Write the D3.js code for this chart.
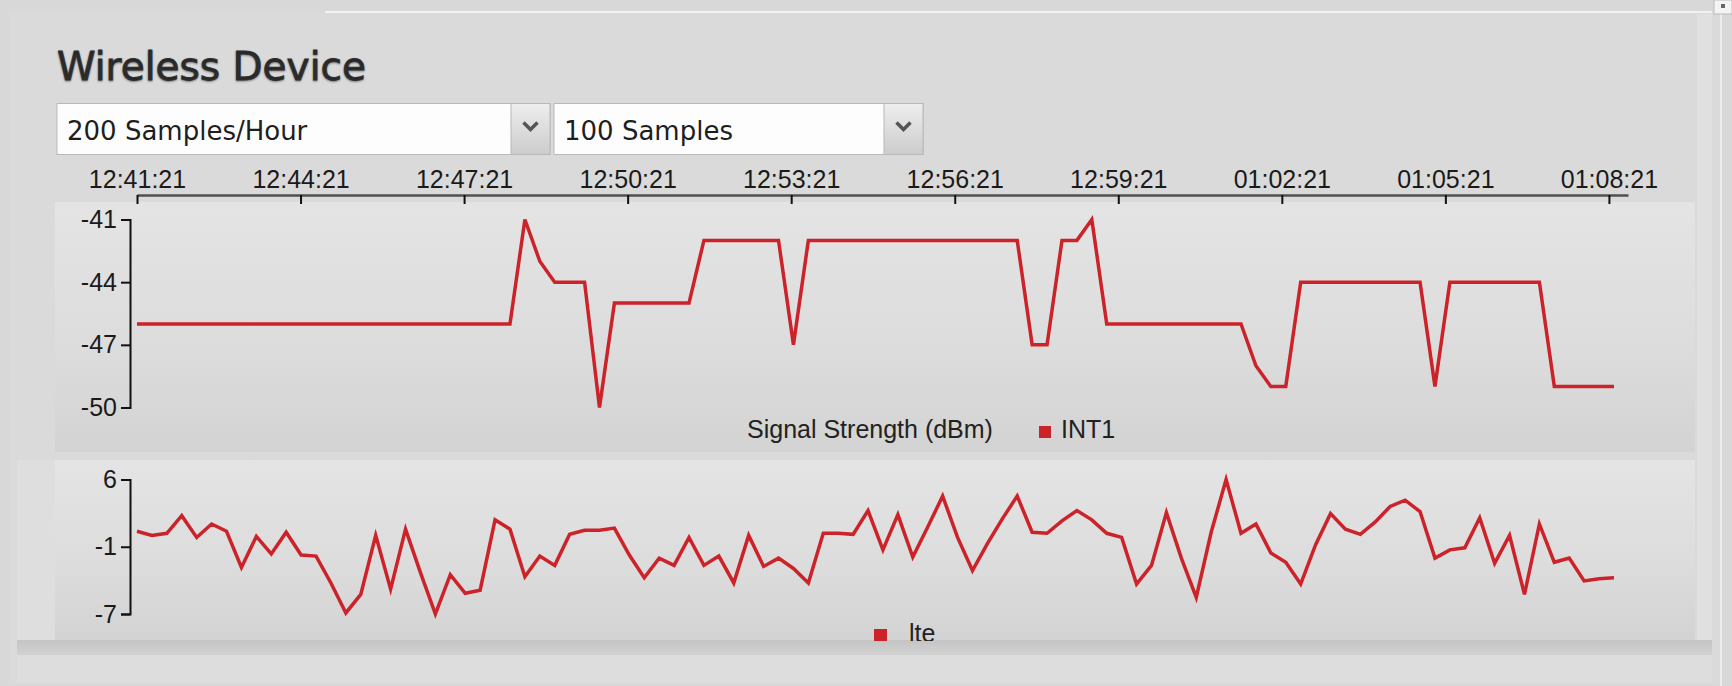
<html>
<style>
  body { margin: 0; background: #d8d8d8; overflow: hidden; }
  svg { display: block; }
  .title { font-family: "DejaVu Sans", sans-serif; font-size: 39px; fill: #2e2e2e; stroke: #2e2e2e; stroke-width: 0.8; text-shadow: 0 1px 2px rgba(0,0,0,0.35); }
  .sel text { font-family: "DejaVu Sans", sans-serif; font-size: 26px; fill: #1e1e1e; }
  .axis text { font-family: "Liberation Sans", Arial, sans-serif; font-size: 25px; fill: #1a1a1a; }
  .legend text { font-family: "Liberation Sans", Arial, sans-serif; font-size: 25px; fill: #222; }
  .line { fill: none; stroke: #cc2229; stroke-width: 3.5; stroke-linejoin: miter; }
</style>
<script src="https://d3js.org/d3.v7.min.js"></script>
<body>
<svg id="chart" width="1732" height="686"></svg>
</body>
<script>
  // time axis: seconds after 12:41:21
  const tickLabels = ["12:41:21", "12:44:21", "12:47:21", "12:50:21", "12:53:21",
                      "12:56:21", "12:59:21", "01:02:21", "01:05:21", "01:08:21"]
  const tickSecs = [0, 180, 360, 540, 720, 900, 1080, 1260, 1440, 1620]
  const axisEndSec = 1641
  const sampleEverySec = 16.42

  const selectLabels = ["200 Samples/Hour", "100 Samples"]

  // Signal Strength (dBm), INT1
  const signalTicks = [-50, -47, -44, -41]
  const signalValues = [
    -46, -46, -46, -46, -46, -46, -46, -46, -46, -46,
    -46, -46, -46, -46, -46, -46, -46, -46, -46, -46,
    -46, -46, -46, -46, -46, -46, -41, -43, -44, -44,
    -44, -50, -45, -45, -45, -45, -45, -45, -42, -42,
    -42, -42, -42, -42, -47, -42, -42, -42, -42, -42,
    -42, -42, -42, -42, -42, -42, -42, -42, -42, -42,
    -47, -47, -42, -42, -41, -46, -46, -46, -46, -46,
    -46, -46, -46, -46, -46, -48, -49, -49, -44, -44,
    -44, -44, -44, -44, -44, -44, -44, -49, -44, -44,
    -44, -44, -44, -44, -44, -49, -49, -49, -49, -49
  ]

  // lte
  const lteTicks = [-7, -0.5, 6]
  const lteTickLabels = ["-7", "-1", "6"]
  const lteValues = [
     1.0,  0.6,  0.8,  2.5,  0.4,  1.7,  1.0, -2.5,  0.5, -1.2,
     0.9, -1.3, -1.4, -4.0, -6.9, -5.1,  0.6, -4.6,  1.2, -3.0,
    -7.0, -3.2, -5.0, -4.7,  2.1,  1.2, -3.4, -1.4, -2.3,  0.7,
     1.1,  1.1,  1.3, -1.3, -3.5, -1.6, -2.3,  0.4, -2.3, -1.4,
    -4.0,  0.6, -2.4, -1.6, -2.6, -4.0,  0.8,  0.8,  0.7,  3.0,
    -0.8,  2.6, -1.5,  1.4,  4.4,  0.4, -2.8, -0.2,  2.2,  4.4,
     0.9,  0.8,  2.0,  3.0,  2.1,  0.8,  0.4, -4.1, -2.3,  2.8,
    -1.6, -5.4,  0.9,  6.0,  0.8,  1.7, -1.1, -2.0, -4.1, -0.3,
     2.7,  1.2,  0.7,  1.9,  3.4,  4.0,  2.9, -1.6, -0.8, -0.6,
     2.3, -2.1,  0.6, -5.1,  1.7, -2.0, -1.6, -3.8, -3.6, -3.5
  ]

  const svg = d3.select('#chart')
  const defs = svg.append('defs')

  function vGradient(id, stops) {
    let g = defs.append('linearGradient').attr('id', id)
      .attr('x1', 0).attr('y1', 0).attr('x2', 0).attr('y2', 1)
    stops.forEach(s => g.append('stop').attr('offset', s[0]).attr('stop-color', s[1]))
  }
  vGradient('panelGrad', [[0, '#e4e4e4'], [0.6, '#dcdcdc'], [1, '#d3d3d3']])
  vGradient('btnGrad', [[0, '#eeeeee'], [1, '#cccccc']])
  vGradient('bandGrad', [[0, '#c4c4c4'], [1, '#d2d2d2']])

  // frame
  svg.append('rect').attr('x', 9).attr('y', 12).attr('width', 1712).attr('height', 672).attr('fill', '#dadada')
  svg.append('line').attr('x1', 325).attr('x2', 1712).attr('y1', 12).attr('y2', 12)
    .attr('stroke', '#f2f2f2').attr('stroke-width', 2)
  svg.append('rect').attr('x', 1697).attr('y', 14).attr('width', 15).attr('height', 640).attr('fill', '#e0e0e0')
  svg.append('line').attr('x1', 1721).attr('x2', 1721).attr('y1', 14).attr('y2', 686)
    .attr('stroke', '#ececec').attr('stroke-width', 2)
  svg.append('rect').attr('x', 1714).attr('y', 0).attr('width', 18).attr('height', 14)
    .attr('fill', '#f4f4f4').attr('stroke', '#bbbbbb')
  svg.append('rect').attr('x', 1721).attr('y', 4).attr('width', 4).attr('height', 4).attr('fill', '#666')

  svg.append('text').attr('class', 'title').attr('x', 57).attr('y', 80).text('Wireless Device')

  // select boxes
  function drawSelect(x, w, label) {
    let g = svg.append('g').attr('class', 'sel').attr('transform', `translate(${x},103.5)`)
    g.append('rect').attr('width', w).attr('height', 51).attr('fill', '#fdfdfd').attr('stroke', '#b8b8b8')
    g.append('rect').attr('x', w - 39).attr('width', 39).attr('height', 51)
      .attr('fill', 'url(#btnGrad)').attr('stroke', '#b8b8b8')
    g.append('path').attr('transform', `translate(${w - 19.5},23)`)
      .attr('d', 'M-7,-4L0,3L7,-4').attr('fill', 'none').attr('stroke', '#555').attr('stroke-width', 3.5)
    g.append('text').attr('x', 10).attr('y', 36).text(label)
  }
  drawSelect(57, 493, selectLabels[0])
  drawSelect(554, 369, selectLabels[1])

  // plot panels
  svg.append('rect').attr('x', 55).attr('y', 202).attr('width', 1640).attr('height', 250).attr('fill', 'url(#panelGrad)')
  svg.append('rect').attr('x', 17).attr('y', 460).attr('width', 38).attr('height', 180).attr('fill', '#dedede')
  svg.append('rect').attr('x', 55).attr('y', 460).attr('width', 1640).attr('height', 180).attr('fill', 'url(#panelGrad)')
  svg.append('rect').attr('x', 17).attr('y', 640).attr('width', 1695).attr('height', 15).attr('fill', 'url(#bandGrad)')
  svg.append('rect').attr('x', 17).attr('y', 655).attr('width', 1695).attr('height', 28).attr('fill', '#dddddd')

  // scales
  let x = d3.scaleLinear().domain([0, axisEndSec]).range([137, 1628])
  let ySignal = d3.scaleLinear().domain([-50, -41]).range([407.5, 219.5])
  let yLte = d3.scaleLinear().domain([-7, 6]).range([614, 479.5])

  // top time axis, labels above, ticks pointing down
  let xAxis = svg.append('g').attr('class', 'axis').attr('transform', 'translate(0,195)')
    .call(d3.axisTop(x).tickValues(tickSecs).tickFormat((d, i) => tickLabels[i])
      .tickSizeInner(-9).tickSizeOuter(0).tickPadding(7))
  xAxis.select('.domain').attr('stroke', '#505050').attr('stroke-width', 2.5)
  xAxis.selectAll('.tick line').attr('stroke', '#111').attr('stroke-width', 2)

  function drawYAxis(scale, ticks, fmt) {
    let g = svg.append('g').attr('class', 'axis').attr('transform', 'translate(130,0)')
      .call(d3.axisLeft(scale).tickValues(ticks).tickFormat(fmt).tickSize(9).tickPadding(4))
    g.selectAll('.domain, .tick line').attr('stroke', '#111').attr('stroke-width', 2)
  }
  drawYAxis(ySignal, signalTicks, d => String(d))
  drawYAxis(yLte, lteTicks, (d, i) => lteTickLabels[i])

  // lines
  function drawLine(values, y) {
    let line = d3.line().x((d, i) => x(i * sampleEverySec)).y(d => y(d))
    svg.append('path').datum(values).attr('class', 'line').attr('d', line)
  }
  drawLine(signalValues, ySignal)
  drawLine(lteValues, yLte)

  // legends
  defs.append('clipPath').attr('id', 'lowClip').append('rect')
    .attr('x', 0).attr('y', 460).attr('width', 1732).attr('height', 181)

  let leg1 = svg.append('g').attr('class', 'legend')
  leg1.append('text').attr('x', 747).attr('y', 438).text('Signal Strength (dBm)')
  leg1.append('rect').attr('x', 1039).attr('y', 426).attr('width', 12).attr('height', 12).attr('fill', '#cc2229')
  leg1.append('text').attr('x', 1061).attr('y', 438).text('INT1')

  let leg2 = svg.append('g').attr('class', 'legend').attr('clip-path', 'url(#lowClip)')
  leg2.append('rect').attr('x', 874).attr('y', 629).attr('width', 13).attr('height', 13).attr('fill', '#cc2229')
  leg2.append('text').attr('x', 909).attr('y', 642).text('lte')
</script>
</html>
